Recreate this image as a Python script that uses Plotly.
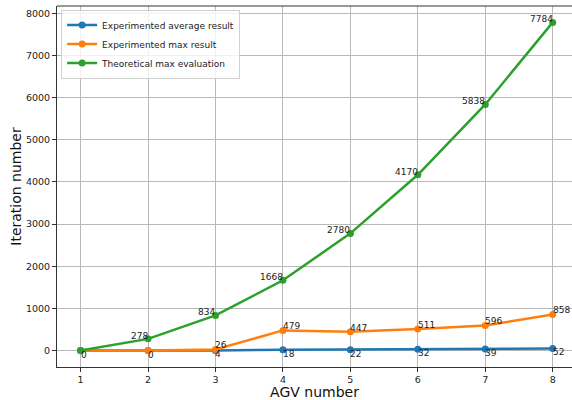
import plotly.graph_objects as go

agv = [1, 2, 3, 4, 5, 6, 7, 8]
avg_result = [0, 0, 4, 18, 22, 32, 39, 52]
max_result = [0, 0, 26, 479, 447, 511, 596, 858]
theory_max = [0, 278, 834, 1668, 2780, 4170, 5838, 7784]

names = ["Experimented average result", "Experimented max result", "Theoretical max evaluation"]
colors = ["#1f77b4", "#ff7f0e", "#2ca02c"]
FONT = "DejaVu Sans"

fig = go.Figure()
for ys, nm, c in zip([avg_result, max_result, theory_max], names, colors):
    fig.add_trace(go.Scatter(x=agv, y=ys, name=nm, mode="lines+markers",
                             line=dict(color=c, width=2.5),
                             marker=dict(color=c, size=7)))

ann = []
# average labels: right, below
for x, y in zip(agv, avg_result):
    ann.append(dict(x=x, y=y, text=str(y), xanchor="left", yanchor="top", showarrow=False,
                    font=dict(size=9, color="#222"), borderpad=0, xshift=-1, yshift=2))
# max labels: right, above (skip the zero start)
for x, y in list(zip(agv, max_result))[2:]:
    ann.append(dict(x=x, y=y, text=str(y), xanchor="left", yanchor="bottom", showarrow=False,
                    font=dict(size=9, color="#222"), borderpad=0, xshift=-1, yshift=-2))
# theoretical labels: left, above
for x, y in list(zip(agv, theory_max))[1:]:
    ann.append(dict(x=x, y=y, text=str(y), xanchor="right", yanchor="bottom", showarrow=False,
                    font=dict(size=9, color="#222"), borderpad=0, xshift=1, yshift=-3))

fig.update_layout(
    width=572, height=400,
    margin=dict(l=57, r=0, t=6, b=33, autoexpand=False),
    plot_bgcolor="white", paper_bgcolor="white",
    font=dict(family=FONT, color="#222"),
    annotations=ann,
    showlegend=True,
    legend=dict(x=0.008, y=0.99, xanchor="left", yanchor="top",
                bgcolor="rgba(255,255,255,0.8)", bordercolor="#d0d0d0", borderwidth=1,
                font=dict(size=9, family=FONT, color="#222"), itemwidth=30,
                tracegroupgap=0),
    xaxis=dict(range=[0.65, 8.286], tickmode="array", tickvals=agv,
               ticktext=[str(a) for a in agv], automargin=False,
               showgrid=True, gridcolor="#b8b8b8", gridwidth=1,
               showline=True, linecolor="#333", linewidth=1, mirror=False,
               ticks="outside", ticklen=4, tickcolor="#333",
               tickfont=dict(size=9.5, family=FONT, color="#222"),
               zeroline=False,
               title=dict(text="AGV number", font=dict(size=14, family=FONT, color="#111"), standoff=2)),
    yaxis=dict(range=[-389.2, 8173.2], tickmode="array", automargin=False,
               tickvals=[0, 1000, 2000, 3000, 4000, 5000, 6000, 7000, 8000],
               showgrid=True, gridcolor="#b8b8b8", gridwidth=1,
               showline=True, linecolor="#333", linewidth=1,
               ticks="outside", ticklen=4, tickcolor="#333",
               tickfont=dict(size=9.5, family=FONT, color="#222"),
               zeroline=False,
               title=dict(text="Iteration number", font=dict(size=14, family=FONT, color="#111"), standoff=1)),
)
# top spine
fig.add_shape(type="line", xref="paper", yref="paper", x0=0, x1=1, y0=1, y1=1,
              line=dict(color="#333", width=1))

fig.write_html("out.html", config={"displayModeBar": False},
               post_script="document.body.style.margin='0px';")
